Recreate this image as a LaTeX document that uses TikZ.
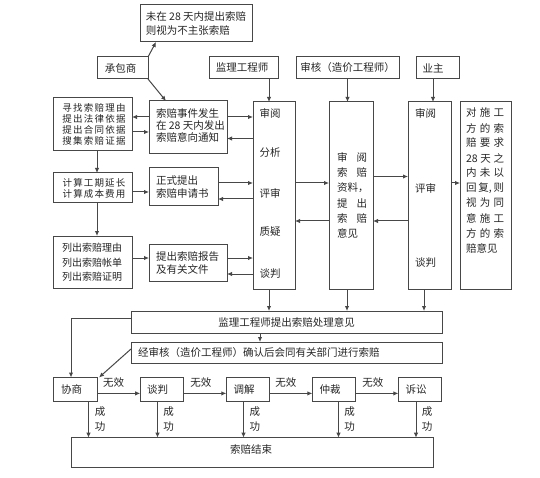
\documentclass[tikz,border=0pt]{standalone}
\usepackage{fontspec}
\setmainfont{Noto Sans CJK SC}
\usetikzlibrary{arrows.meta}
\newcommand\sprt[2]{\makebox[30pt][s]{#1\hfill#2}}
\newcommand\sprd[3]{\makebox[38pt][s]{#1\hfill#2\hfill#3}}
\tikzset{
  box/.style={draw=black!72, line width=1pt, inner sep=0pt, outer sep=0pt},
  arr/.style={draw=black!72, line width=1pt, -{Latex[length=5pt,width=4.5pt]}},
  lbl/.style={inner sep=0pt, outer sep=0pt, text=black!85, font={\fontsize{10.5}{13}\selectfont}},
  dense/.style={lbl, align=left, font={\fontsize{9.5}{10.8}\selectfont\addfontfeatures{LetterSpace=13}}},
}
\begin{document}
\begin{tikzpicture}[x=1pt,y=-1pt]
\useasboundingbox (0,0) rectangle (540,478);
\fill[white] (0,0) rectangle (540,478);

% ---------- boxes ----------
\node[box,minimum width=112pt,minimum height=37pt] (top) at (196,23.5) {};
\node[box,minimum width=51pt,minimum height=22pt] (cbs) at (122.5,68) {};
\node[box,minimum width=69pt,minimum height=22pt] (jl) at (243.5,68) {};
\node[box,minimum width=103pt,minimum height=22pt] (sh) at (347.5,68) {};
\node[box,minimum width=43pt,minimum height=22pt] (yz) at (437.5,68) {};
\node[box,minimum width=78pt,minimum height=53pt] (sjfs) at (188,127.5) {};
\node[box,minimum width=79pt,minimum height=53pt] (xz) at (92.5,124.5) {};
\node[box,minimum width=79pt,minimum height=30pt] (js) at (92.5,188) {};
\node[box,minimum width=69pt,minimum height=38pt] (zs) at (183.5,187) {};
\node[box,minimum width=79pt,minimum height=52pt] (lc) at (92.5,262) {};
\node[box,minimum width=78pt,minimum height=37pt] (bg) at (188,262.5) {};
\node[box,minimum width=42pt,minimum height=187pt] (c1) at (274,195.5) {};
\node[box,minimum width=44pt,minimum height=187pt] (c2) at (351,195.5) {};
\node[box,minimum width=43pt,minimum height=187pt] (c3) at (429.5,195.5) {};
\node[box,minimum width=51pt,minimum height=187pt] (c4) at (485.5,195.5) {};
\node[box,minimum width=311pt,minimum height=22pt] (cl) at (286.5,322) {};
\node[box,minimum width=311pt,minimum height=21pt] (qr) at (286.5,352.5) {};
\node[box,minimum width=44pt,minimum height=23.5pt] (xs) at (75.5,389.25) {};
\node[box,minimum width=43pt,minimum height=23.5pt] (tp) at (161.7,389.25) {};
\node[box,minimum width=43.4pt,minimum height=23.5pt] (tj) at (248,389.25) {};
\node[box,minimum width=43.4pt,minimum height=23.5pt] (zc) at (334,389.25) {};
\node[box,minimum width=43.4pt,minimum height=23.5pt] (ss) at (420,389.25) {};
\node[box,minimum width=362pt,minimum height=29.6pt] (end) at (252.5,452.5) {};

% ---------- texts ----------
\node[lbl,align=left,font={\fontsize{10.5}{14}\selectfont}] (topt) at (196,24) {未在 28 天内提出索赔\\则视为不主张索赔};
\node[lbl] (cbst) at (120.5,68) {承包商};
\node[lbl] (jlt) at (242,68) {监理工程师};
\node[lbl] (sht) at (347.5,68) {审核（造价工程师）};
\node[lbl] (yzt) at (433,68) {业主};
\node[lbl,anchor=west,align=left,font={\fontsize{10.5}{12}\selectfont}] (sjfst) at (156,125.5) {索赔事件发生\\在 28 天内发出\\索赔意向通知};
\node[dense] (xzt) at (94,124.5) {寻找索赔理由\\提出法律依据\\提出合同依据\\搜集索赔证据};
\node[dense,font={\fontsize{9.5}{10.3}\selectfont\addfontfeatures{LetterSpace=12}}] (jst) at (94,188.3) {计算工期延长\\计算成本费用};
\node[lbl,align=left,font={\fontsize{10}{14.5}\selectfont}] (lct) at (92,262.5) {列出索赔理由\\列出索赔帐单\\列出索赔证明};
\node[lbl,anchor=west,align=left] (zst) at (156,187.5) {正式提出\\索赔申请书};
\node[lbl,anchor=west,align=left] (bgt) at (156,262.5) {提出索赔报告\\及有关文件};
% column 1
\foreach \s/\y [count=\i] in {审阅/113,分析/153,评审/193,质疑/232,谈判/274}
  \node[lbl,anchor=west] (ca\i) at (259.5,\y) {\s};
% column 2
\foreach \s [count=\i from 0] in {{\sprt{审}{阅}},{\sprt{索}{赔}},{资料，},{\sprt{提}{出}},{\sprt{索}{赔}},{意见}}
  \node[lbl,anchor=west] (cb\i) at (337,157.5+15.2*\i) {\s};
% column 3
\foreach \s/\y [count=\i] in {审阅/113,评审/188,谈判/263}
  \node[lbl,anchor=west] (cc\i) at (415,\y) {\s};
% column 4
\foreach \s [count=\i from 0] in {{\sprd{对}{施}{工}},{\sprd{方}{的}{索}},{\sprd{赔}{要}{求}},{\sprd{28}{天}{之}},{\sprd{内}{未}{以}},{\sprd{回}{复,}{则}},{\sprd{视}{为}{同}},{\sprd{意}{施}{工}},{\sprd{方}{的}{索}},{赔意见}}
  \node[lbl,anchor=west] (cd\i) at (466,113+15*\i) {\s};
\node[lbl] (clt) at (286.5,322) {监理工程师提出索赔处理意见};
\node[lbl,anchor=west] (qrt) at (138,352.5) {经审核（造价工程师）确认后会同有关部门进行索赔};
\node[lbl] (xst) at ([xshift=-4pt]xs.center) {协商};
\node[lbl] (tpt) at ([xshift=-4pt]tp.center) {谈判};
\node[lbl] (tjt) at ([xshift=-4pt]tj.center) {调解};
\node[lbl] (zct) at ([xshift=-4pt]zc.center) {仲裁};
\node[lbl] (sst) at ([xshift=-4pt]ss.center) {诉讼};
\node[lbl] (endt) at (251,450) {索赔结束};
\foreach \x [count=\i] in {113.6,200.8,285.8,372.9}
  \node[lbl] (wx\i) at (\x,382.7) {无效};
\foreach \x [count=\i] in {100,168.7,254.8,349.5,427}
  \node[lbl,align=center,font={\fontsize{10.5}{15}\selectfont}] (cg\i) at (\x,419.5) {成\\功};

% ---------- connectors ----------
\coordinate (jlo) at ([xshift=-9pt]jl.south east);
\draw[arr] (jlo) -- (jlo |- c1.north);
\draw[arr] (sh.south) -- (sh.south |- c2.north);
\coordinate (yzo) at ([xshift=-4.5pt]yz.south);
\draw[arr] (yzo) -- (yzo |- c3.north);
\draw[arr] (cbs.north east) -- ([xshift=16pt]top.south west);
\draw[arr] (cbs.south east) -- ([xshift=17pt]sjfs.north west);

\draw[arr] (sjfs.west |- 0,117) -- (xz.east |- 0,117);
\draw[arr] (xz.east |- 0,132) -- (sjfs.west |- 0,132);
\draw[arr] (sjfs.east |- 0,117) -- (c1.west |- 0,117);
\draw[arr] (c1.west |- 0,138.5) -- (sjfs.east |- 0,138.5);
\draw[arr] (xz.south -| 97,0) -- (js.north -| 97,0);
\draw[arr] (js.east |- 0,192) -- (zs.west |- 0,192);
\draw[arr] (zs.east |- 0,183) -- (c1.west |- 0,183);
\draw[arr] (c1.west |- 0,199) -- (zs.east |- 0,199);
\draw[arr] (js.south -| 97,0) -- (lc.north -| 97,0);
\draw[arr] (lc.east |- 0,258) -- (bg.west |- 0,258);
\draw[arr] (bg.east |- 0,258) -- (c1.west |- 0,258);
\draw[arr] (c1.west |- 0,274) -- (bg.east |- 0,274);

\draw[arr] (c1.east |- 0,183) -- (c2.west |- 0,183);
\draw[arr] (c2.west |- 0,221) -- (c1.east |- 0,221);
\draw[arr] (c2.east |- 0,176.5) -- (c3.west |- 0,176.5);
\draw[arr] (c3.west |- 0,221) -- (c2.east |- 0,221);
\draw[arr] (c3.east |- 0,183) -- (c4.west |- 0,183);

\draw[arr] (c1.south -| 269,0) -- (cl.north -| 269,0);
\draw[arr] (c2.south -| 347,0) -- (cl.north -| 347,0);
\draw[arr] (c3.south -| 424,0) -- (cl.north -| 424,0);
\draw[arr] (cl.south -| 260,0) -- (qr.north -| 260,0);
\draw[arr] (cl.west |- 0,318) -| (xs.north -| 71,0);
\draw[arr] (qr.west |- 0,349) -- ([xshift=1.5pt]xs.north east);

\draw[arr] (xs.east |- 0,393.4) -- (tp.west |- 0,393.4);
\draw[arr] (tp.east |- 0,393.4) -- (tj.west |- 0,393.4);
\draw[arr] (tj.east |- 0,393.4) -- (zc.west |- 0,393.4);
\draw[arr] (zc.east |- 0,393.4) -- (ss.west |- 0,393.4);

\draw[arr] (xs.south -| 88.5,0) -- (end.north -| 88.5,0);
\draw[arr] (tp.south -| 157.5,0) -- (end.north -| 157.5,0);
\draw[arr] (tj.south -| 243.5,0) -- (end.north -| 243.5,0);
\draw[arr] (zc.south -| 338.5,0) -- (end.north -| 338.5,0);
\draw[arr] (ss.south -| 416,0) -- (end.north -| 416,0);
\end{tikzpicture}
\end{document}
